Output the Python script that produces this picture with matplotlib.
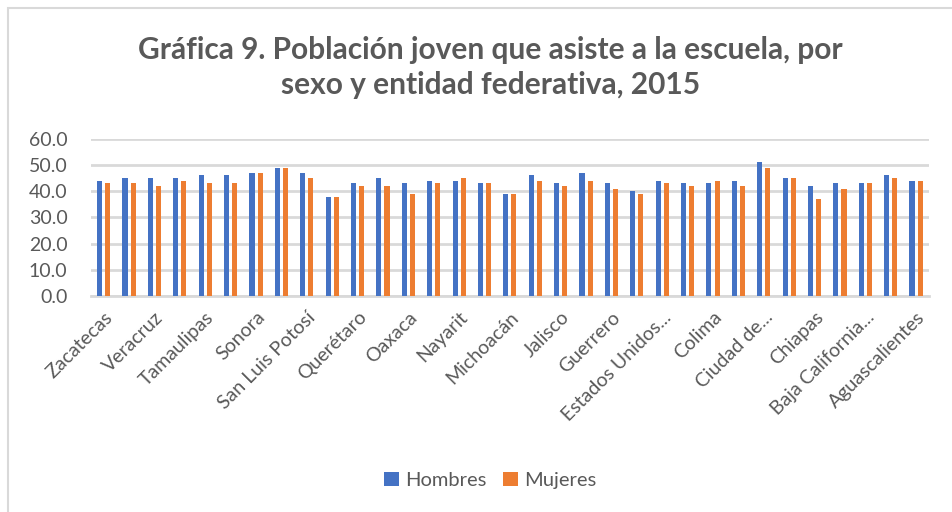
import numpy as np
import matplotlib
matplotlib.use("Agg")
import matplotlib.pyplot as plt
from matplotlib.patches import Rectangle

# datos (porcentaje de población joven que asiste a la escuela)
entidades = ["Zacatecas", "Yucatán", "Veracruz", "Tlaxcala", "Tamaulipas", "Tabasco",
             "Sonora", "Sinaloa", "San Luis Potosí", "Quintana Roo", "Querétaro", "Puebla",
             "Oaxaca", "Nuevo León", "Nayarit", "Morelos", "Michoacán", "México",
             "Jalisco", "Hidalgo", "Guerrero", "Guanajuato", "Estados Unidos Mexicanos",
             "Durango", "Colima", "Coahuila", "Ciudad de México", "Chihuahua", "Chiapas",
             "Campeche", "Baja California Sur", "Baja California", "Aguascalientes"]
etiquetas = ["Zacatecas", "Veracruz", "Tamaulipas", "Sonora", "San Luis Potosí",
             "Querétaro", "Oaxaca", "Nayarit", "Michoacán", "Jalisco", "Guerrero",
             "Estados Unidos...", "Colima", "Ciudad de...", "Chiapas",
             "Baja California...", "Aguascalientes"]
hombres = [44.1, 45.1, 45.1, 45.1, 46.1, 46.1, 47.1, 49.1, 47.1, 38.0, 43.0, 45.1,
           43.0, 44.1, 44.1, 43.0, 39.0, 46.1, 43.0, 47.1, 43.0, 40.0, 44.1,
           43.0, 43.0, 44.1, 51.1, 45.1, 42.0, 43.0, 43.0, 46.1, 44.1]
mujeres = [43.0, 43.0, 42.0, 44.1, 43.0, 43.0, 47.1, 49.1, 45.1, 38.0, 42.0, 42.0,
           39.0, 43.0, 45.1, 43.0, 39.0, 44.1, 42.0, 44.1, 41.0, 39.0, 43.0,
           42.0, 44.1, 42.0, 49.1, 45.1, 37.0, 41.0, 43.0, 45.1, 44.1]

azul = "#4472C4"
naranja = "#ED7D31"
gris = "#595959"

plt.rcParams['font.family'] = ['Lato', 'DejaVu Sans']

fig = plt.figure(figsize=(9.52, 5.12), dpi=100)
fig.patches.append(Rectangle((8/952, -0.1), 1.2, (512-8)/512 + 0.1, transform=fig.transFigure,
                             fill=False, edgecolor="#D9D9D9", linewidth=1.5))
ax = fig.add_axes([0.0956, 0.422, 0.880, 0.3065])

x = np.arange(len(entidades))
w = 0.2
ax.bar(x - 0.16, hombres, w, color=azul, label="Hombres", zorder=3)
ax.bar(x + 0.16, mujeres, w, color=naranja, label="Mujeres", zorder=3)

ax.set_xlim(-0.5, len(entidades) - 0.5)
ax.set_ylim(0, 60)
ax.set_yticks(np.arange(0, 61, 10))
ax.set_yticklabels([f"{v:.1f}" for v in range(0, 61, 10)], fontsize=14, color=gris)
ax.yaxis.grid(True, color="#D9D9D9", linewidth=2)
ax.set_axisbelow(True)
ax.tick_params(axis="y", length=0, pad=17)
ax.tick_params(axis="x", length=0, pad=9)
ax.set_xticks(x[::2])
ax.set_xticklabels(etiquetas, rotation=45, ha="right", va="top", rotation_mode="anchor",
                   fontsize=14, color=gris)
for s in ["top", "right", "left"]:
    ax.spines[s].set_visible(False)
ax.spines["bottom"].set_color("#D9D9D9")
ax.spines["bottom"].set_linewidth(2)

fig.text(0.515, 0.868, "Gráfica 9. Población joven que asiste a la escuela, por\nsexo y entidad federativa, 2015",
         ha="center", va="center", fontsize=21.5, fontweight="bold", color=gris, linespacing=1.3)

fig.legend(loc="center", bbox_to_anchor=(0.515, 0.062), ncol=2, frameon=False,
           fontsize=14.5, handlelength=0.75, handleheight=0.75, handletextpad=0.3,
           columnspacing=0.8, labelcolor=gris)

fig.savefig("out.png", dpi=100)
